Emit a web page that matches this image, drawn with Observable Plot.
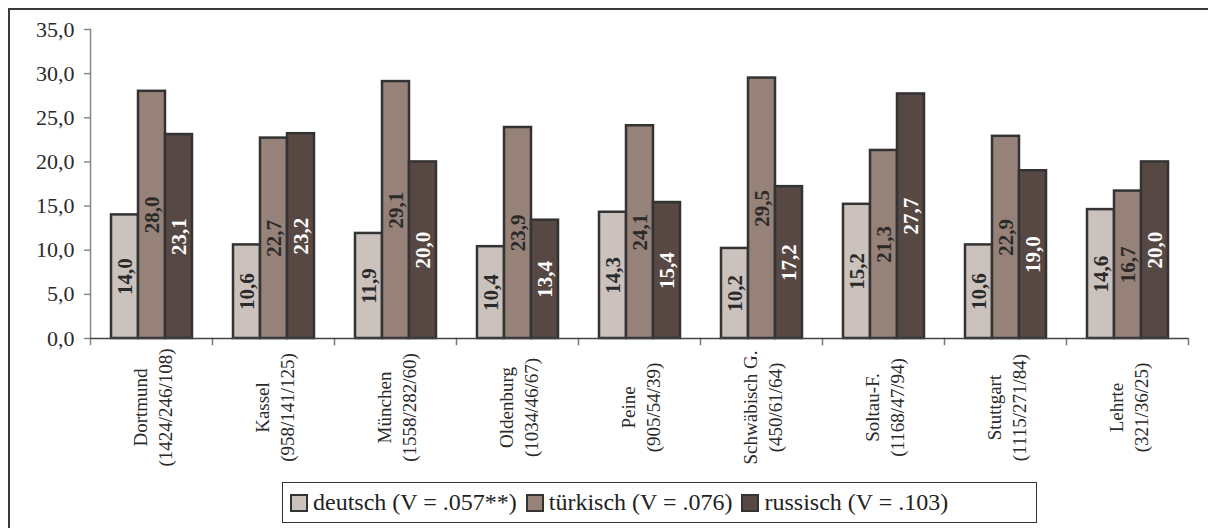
<!DOCTYPE html>
<html>
<head>
<meta charset="utf-8">
<script src="https://cdn.jsdelivr.net/npm/d3@7"></script>
<script src="https://cdn.jsdelivr.net/npm/@observablehq/plot@0.6"></script>
<style>
  html, body { margin: 0; padding: 0; background: #fff; }
  body { width: 1208px; height: 528px; overflow: hidden; position: relative; font-family: "Liberation Serif", "DejaVu Serif", serif; }
  #border { position: absolute; left: 8px; top: 8px; width: 1400px; height: 800px; border: 2px solid #3a3a3a; box-sizing: border-box; }
  #chart { position: absolute; left: 0; top: 0; }
  #legend { position: absolute; left: 282px; top: 482px; width: 755px; height: 41px; border: 1.5px solid #333; box-sizing: border-box;
            display: flex; align-items: center; padding-left: 7px; font-size: 24px; color: #222; white-space: nowrap; background: #fff; }
  .item { display: flex; align-items: center; margin-right: 9px; }
  .sw { display: inline-block; width: 14px; height: 14px; border: 2px solid #333; margin-right: 5px; }
</style>
</head>
<body>
<div id="border"></div>
<div id="chart"></div>
<div id="legend"></div>
<script>
// ---- data ----
const cities = ["Dortmund", "Kassel", "München", "Oldenburg", "Peine", "Schwäbisch G.", "Soltau-F.", "Stuttgart", "Lehrte"];
const sampleSizes = ["(1424/246/108)", "(958/141/125)", "(1558/282/60)", "(1034/46/67)", "(905/54/39)", "(450/61/64)", "(1168/47/94)", "(1115/271/84)", "(321/36/25)"];
const series = ["deutsch", "türkisch", "russisch"];
const legendLabels = ["deutsch (V = .057**)", "türkisch (V = .076)", "russisch (V = .103)"];
const deutsch = [14.0, 10.6, 11.9, 10.4, 14.3, 10.2, 15.2, 10.6, 14.6];
const tuerkisch = [28.0, 22.7, 29.1, 23.9, 24.1, 29.5, 21.3, 22.9, 16.7];
const russisch = [23.1, 23.2, 20.0, 13.4, 15.4, 17.2, 27.7, 19.0, 20.0];
const yTicks = [0, 5, 10, 15, 20, 25, 30, 35];

// ---- styling ----
const colors = ["#cbc1bd", "#978279", "#574843"];
const labelColors = ["#2a2a2a", "#2a2a2a", "#ffffff"];

const valuesBySeries = [deutsch, tuerkisch, russisch];
const rows = [];
cities.forEach((c, i) => series.forEach((s, j) => rows.push({city: c, series: s, value: valuesBySeries[j][i]})));
const cityRows = cities.map((c, i) => ({city: c, label: c + "\n" + sampleSizes[i]}));

const fmt = d => d.toFixed(1).replace(".", ",");

const W = 1208, H = 528, mT = 29, mB = 190, mL = 87, mR = 17;
const plotH = H - mT - mB;

const chart = Plot.plot({
  width: W,
  height: H,
  marginTop: mT,
  marginBottom: mB,
  marginLeft: mL,
  marginRight: mR,
  style: {fontFamily: "Liberation Serif, serif", background: "transparent", color: "#2a2a2a"},
  fx: {domain: cities, paddingInner: 0, paddingOuter: 0, axis: null, label: null},
  x: {domain: series, paddingInner: 0, paddingOuter: 0.71, axis: null, label: null},
  y: {domain: [0, 35], label: null},
  color: {domain: series, range: colors},
  marks: [
    Plot.axisY(yTicks, {tickSize: 6, tickPadding: 10, tickFormat: fmt, fontSize: 22, stroke: "#888", fill: "#2a2a2a", strokeWidth: 1.5, label: null}),
    Plot.frame({anchor: "left", facetAnchor: "left", stroke: "#888", strokeWidth: 1.5, insetBottom: -6}),
    Plot.frame({anchor: "right", stroke: "#777", strokeWidth: 1.5, insetTop: plotH, insetBottom: -6}),
    Plot.barY(rows, {fx: "city", x: "series", y: "value", fill: "series", stroke: "#333", strokeWidth: 2.5, insetLeft: 0, insetRight: 0}),
    Plot.ruleY([0], {stroke: "#444", strokeWidth: 1.5}),
    Plot.text(rows, {fx: "city", x: "series", y: d => d.value / 2, text: d => fmt(d.value), rotate: -90,
      fill: d => labelColors[series.indexOf(d.series)], fontSize: 21, fontWeight: "bold", textAnchor: "middle", lineAnchor: "middle"}),
    Plot.text(cityRows, {fx: "city", text: "label", frameAnchor: "bottom", rotate: -90, dy: 69,
      fontSize: 19, fill: "#2a2a2a", textAnchor: "middle", lineAnchor: "middle", lineHeight: 1.32})
  ]
});
document.getElementById("chart").appendChild(chart);

// legend
const legend = document.getElementById("legend");
series.forEach((s, i) => {
  const item = document.createElement("span");
  item.className = "item";
  const sw = document.createElement("span");
  sw.className = "sw";
  sw.style.background = colors[i];
  const t = document.createElement("span");
  t.textContent = legendLabels[i];
  item.appendChild(sw);
  item.appendChild(t);
  legend.appendChild(item);
});
</script>
</body>
</html>
